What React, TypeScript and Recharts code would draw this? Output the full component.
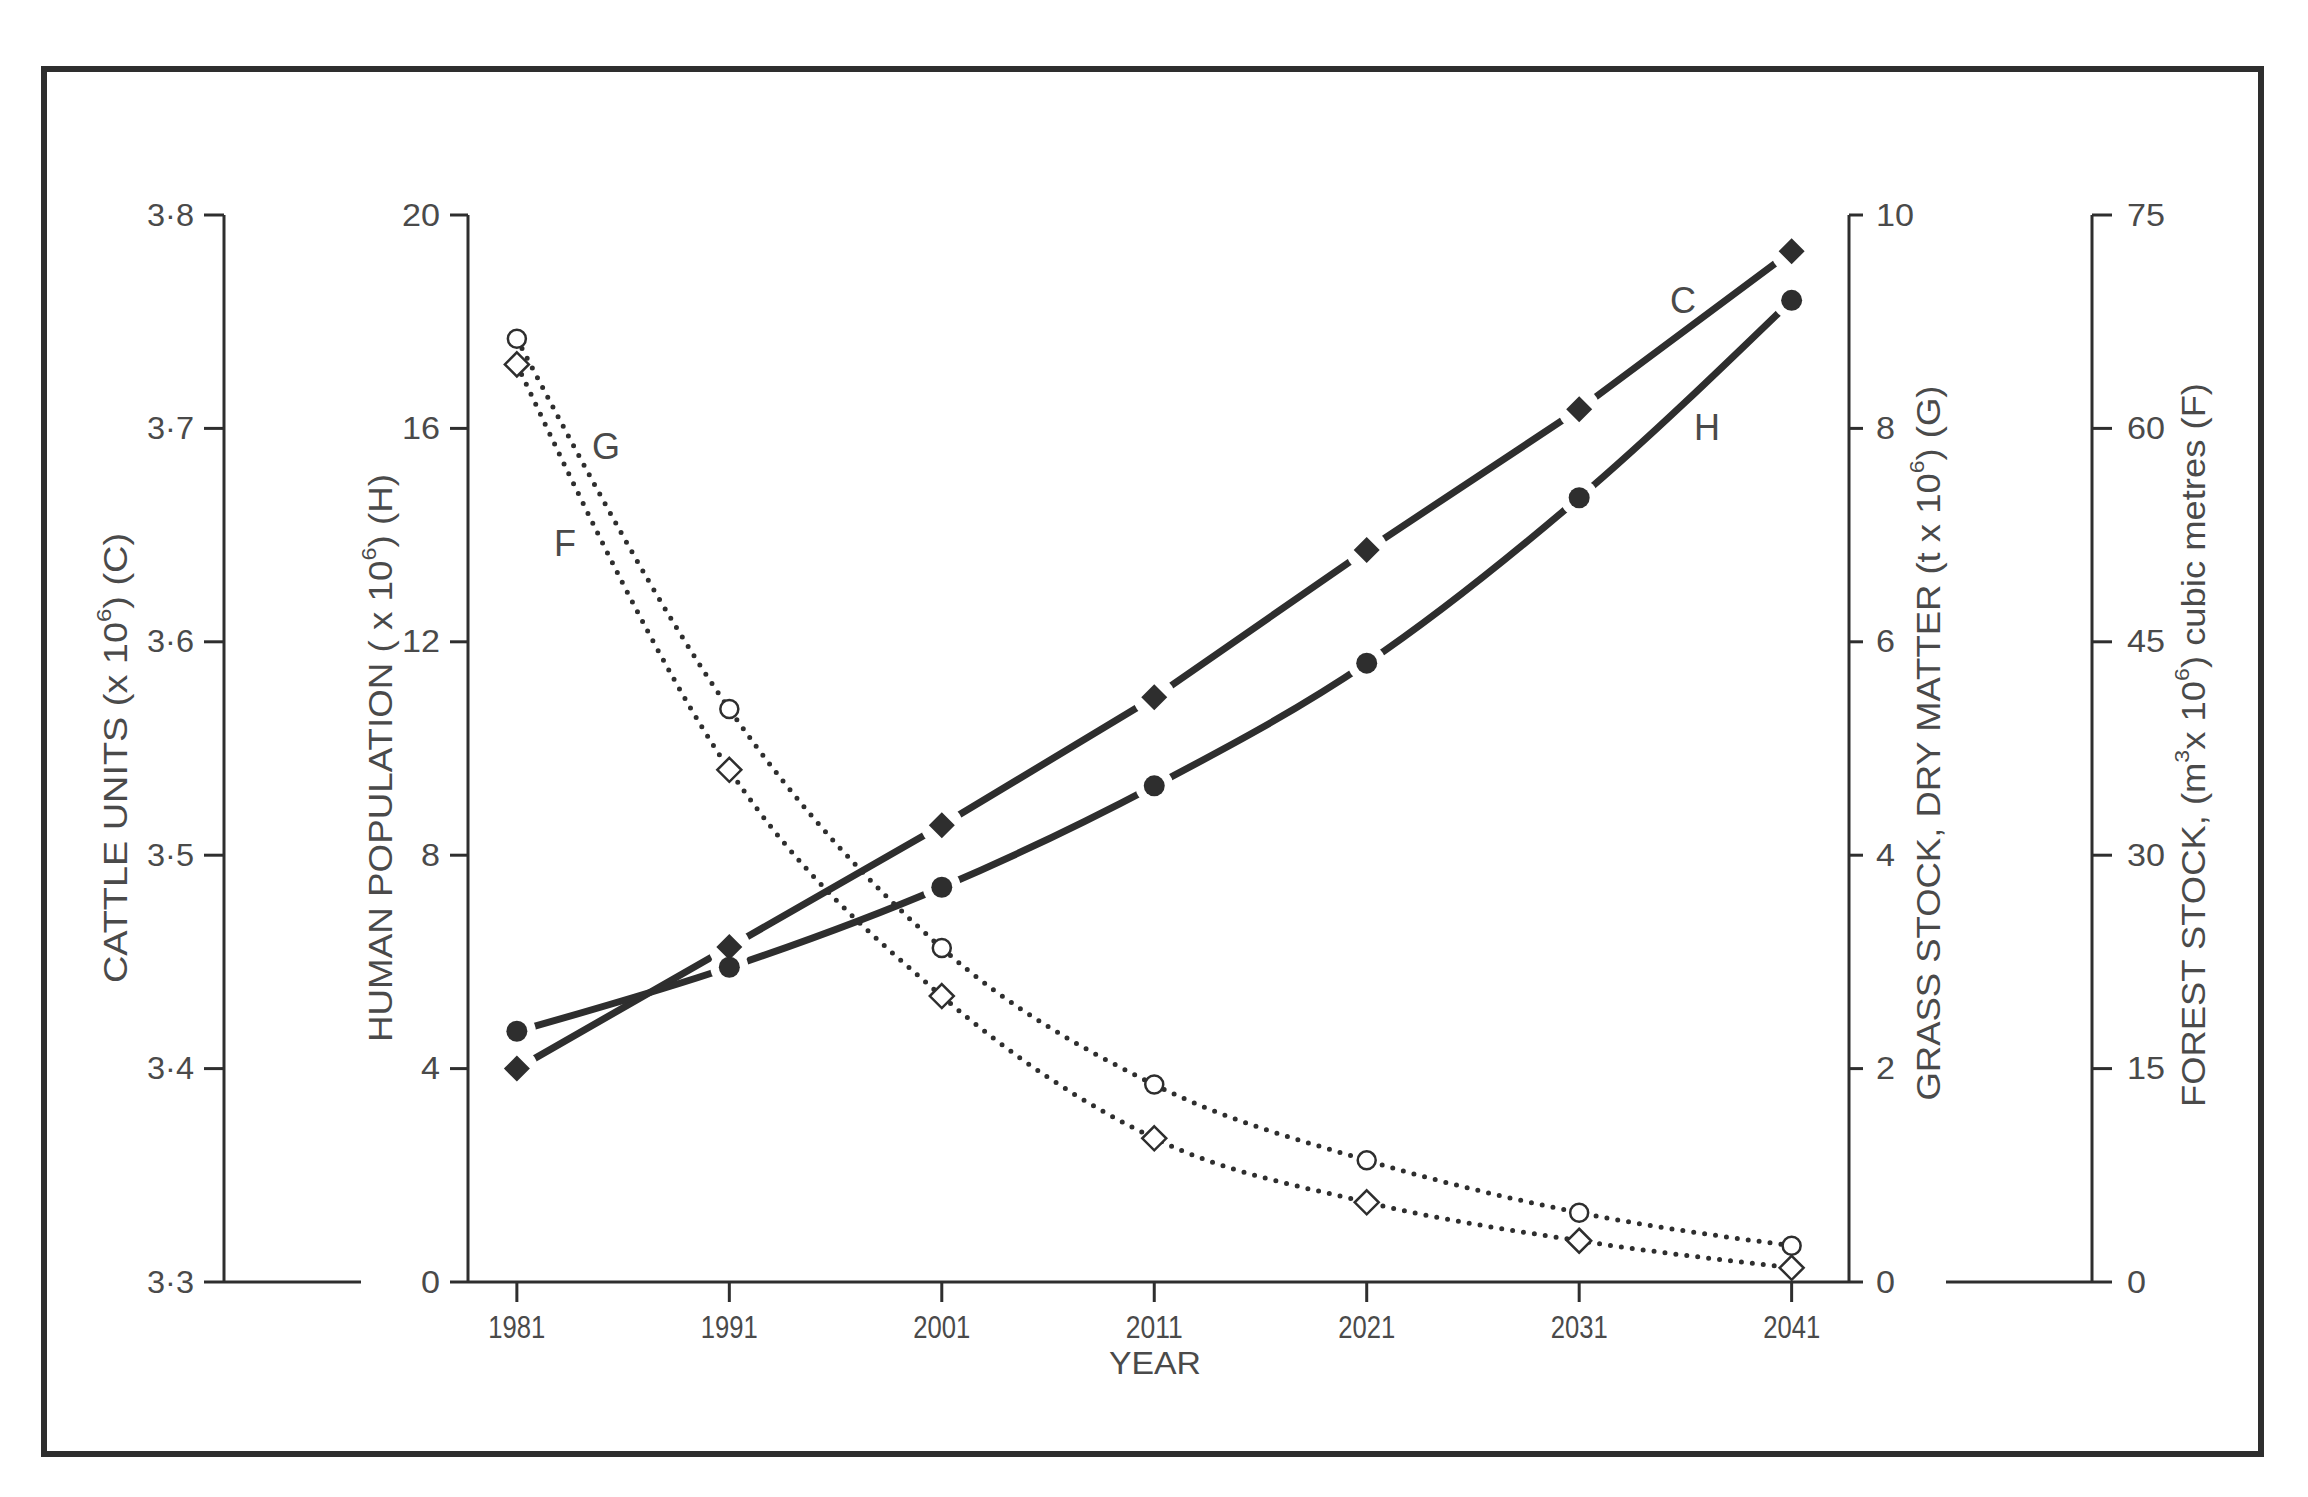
import React from "react";
import { LineChart, Line, XAxis, YAxis } from "recharts";

// values, one per decade
const years = [1981, 1991, 2001, 2011, 2021, 2031, 2041];
const humanPop = [4.7, 5.9, 7.4, 9.3, 11.6, 14.7, 18.4]; // H, x10^6
const cattleUnits = [3.4, 3.457, 3.514, 3.574, 3.643, 3.709, 3.783]; // C, x10^6
const grassStock = [8.84, 5.37, 3.13, 1.85, 1.14, 0.65, 0.34]; // G, t x10^6
const forestStock = [64.5, 36.0, 20.1, 10.1, 5.6, 2.9, 1.0]; // F, m3 x10^6

const humanTicks = [0, 4, 8, 12, 16, 20];
const cattleTicks = [3.3, 3.4, 3.5, 3.6, 3.7, 3.8];
const grassTicks = [0, 2, 4, 6, 8, 10];
const forestTicks = [0, 15, 30, 45, 60, 75];

const data = years.map((year, i) => ({
  year,
  H: humanPop[i],
  C: cattleUnits[i],
  G: grassStock[i],
  F: forestStock[i],
}));

// axis ids sort so the inner axes (human, grass) sit next to the plot
const AX_H = "a_human";
const AX_C = "b_cattle";
const AX_G = "a_grass";
const AX_F = "b_forest";

const INK = "#2e2e2e";
const TEXT = "#4a4a4a";
const SANS = "'Liberation Sans', Arial, sans-serif";

// layout
const W = 2308;
const H = 1497;
const PLOT_B = 1282;
const CATTLE_X = 224;
const FOREST_X = 2092;

// white ring drawn under each solid marker so the thick lines stop short of it
const Halo = (r: number) => (props: any) => {
  const { cx, cy } = props;
  if (cx == null || cy == null) return null;
  return <circle cx={cx} cy={cy} r={r} fill="#fff" />;
};

const FilledDiamond = (props: any) => {
  const { cx, cy } = props;
  if (cx == null || cy == null) return null;
  const s = 13;
  return (
    <polygon
      points={`${cx},${cy - s} ${cx + s},${cy} ${cx},${cy + s} ${cx - s},${cy}`}
      fill={INK}
    />
  );
};

const FilledCircle = (props: any) => {
  const { cx, cy } = props;
  if (cx == null || cy == null) return null;
  return <circle cx={cx} cy={cy} r={10.5} fill={INK} />;
};

const OpenCircle = (props: any) => {
  const { cx, cy } = props;
  if (cx == null || cy == null) return null;
  return <circle cx={cx} cy={cy} r={9} fill="#fff" stroke={INK} strokeWidth={2.5} />;
};

const OpenDiamond = (props: any) => {
  const { cx, cy } = props;
  if (cx == null || cy == null) return null;
  const s = 12;
  return (
    <polygon
      points={`${cx},${cy - s} ${cx + s},${cy} ${cx},${cy + s} ${cx - s},${cy}`}
      fill="#fff"
      stroke={INK}
      strokeWidth={2.5}
    />
  );
};

const YearTick = (props: any) => {
  const { x, y, payload } = props;
  return (
    <text
      x={x}
      y={y + 23}
      textAnchor="middle"
      dominantBaseline="central"
      fontFamily={SANS}
      fontSize={32}
      fill={TEXT}
      textLength={57}
      lengthAdjust="spacingAndGlyphs"
    >
      {payload.value}
    </text>
  );
};

// wide lettering-style numerals on the value axes
const ValueTick = (props: any) => {
  const { x, y, payload, textAnchor, tickFormatter } = props;
  const label = tickFormatter ? tickFormatter(payload.value, payload.index) : String(payload.value);
  const len = label.split("").reduce((s: number, ch: string) => s + (ch === "·" ? 9 : 19), 0);
  return (
    <text
      x={x}
      y={y}
      textAnchor={textAnchor}
      dominantBaseline="central"
      fontFamily={SANS}
      fontSize={31}
      fill={TEXT}
      textLength={len}
      lengthAdjust="spacingAndGlyphs"
    >
      {label}
    </text>
  );
};

const axisLine = { stroke: INK, strokeWidth: 3 };

const VTitle = ({ x, y, len, children }: any) => (
  <text
    x={x}
    y={y}
    transform={`rotate(-90 ${x} ${y})`}
    textAnchor="middle"
    dominantBaseline="central"
    fontFamily={SANS}
    fontSize={33}
    fill={TEXT}
    textLength={len}
    lengthAdjust="spacingAndGlyphs"
  >
    {children}
  </text>
);

const Sup = ({ children }: any) => (
  <tspan baselineShift="super" fontSize={21}>
    {children}
  </tspan>
);

export default function App() {
  return (
    <div style={{ position: "absolute", left: 0, top: 0, width: W, height: H, background: "#fff" }}>
      <LineChart
        width={W}
        height={H}
        data={data}
        margin={{ top: 215, bottom: 115, left: 74, right: 66 }}
      >
        <XAxis
          dataKey="year"
          type="number"
          domain={[1978.7, 2043.7]}
          ticks={years}
          interval={0}
          allowDataOverflow
          height={100}
          tickSize={20}
          axisLine={axisLine}
          tickLine={axisLine}
          tick={<YearTick />}
        />
        <YAxis
          yAxisId={AX_H}
          orientation="left"
          domain={[0, 20]}
          ticks={humanTicks}
          interval={0}
          width={244}
          tickSize={18}
          tickMargin={10}
          axisLine={axisLine}
          tickLine={axisLine}
          tick={<ValueTick />}
        />
        <YAxis
          yAxisId={AX_C}
          orientation="left"
          domain={[3.3, 3.8]}
          ticks={cattleTicks}
          interval={0}
          width={150}
          tickSize={20}
          tickMargin={10}
          axisLine={axisLine}
          tickLine={axisLine}
          tick={<ValueTick />}
          tickFormatter={(v: number) => v.toFixed(1).replace(".", "·")}
        />
        <YAxis
          yAxisId={AX_G}
          orientation="right"
          domain={[0, 10]}
          ticks={grassTicks}
          interval={0}
          width={243}
          tickSize={14}
          tickMargin={13}
          axisLine={axisLine}
          tickLine={axisLine}
          tick={<ValueTick />}
        />
        <YAxis
          yAxisId={AX_F}
          orientation="right"
          domain={[0, 75]}
          ticks={forestTicks}
          interval={0}
          width={150}
          tickSize={20}
          tickMargin={15}
          axisLine={axisLine}
          tickLine={axisLine}
          tick={<ValueTick />}
        />
        {/* thick solid lines with white rings under the markers */}
        <Line
          yAxisId={AX_C}
          dataKey="C"
          type="linear"
          stroke={INK}
          strokeWidth={7}
          strokeLinecap="round"
          dot={Halo(21)}
          isAnimationActive={false}
        />
        <Line
          yAxisId={AX_H}
          dataKey="H"
          type="monotone"
          stroke={INK}
          strokeWidth={7}
          strokeLinecap="round"
          dot={Halo(19)}
          isAnimationActive={false}
        />
        <Line
          yAxisId={AX_C}
          dataKey="C"
          stroke="none"
          dot={<FilledDiamond />}
          isAnimationActive={false}
        />
        <Line
          yAxisId={AX_H}
          dataKey="H"
          stroke="none"
          dot={<FilledCircle />}
          isAnimationActive={false}
        />
        <Line
          yAxisId={AX_G}
          dataKey="G"
          type="monotone"
          stroke={INK}
          strokeWidth={5}
          strokeDasharray="0 11"
          strokeLinecap="round"
          dot={<OpenCircle />}
          isAnimationActive={false}
        />
        <Line
          yAxisId={AX_F}
          dataKey="F"
          type="monotone"
          stroke={INK}
          strokeWidth={5}
          strokeDasharray="0 11"
          strokeLinecap="round"
          dot={<OpenDiamond />}
          isAnimationActive={false}
        />
      </LineChart>
      <svg
        width={W}
        height={H}
        style={{ position: "absolute", left: 0, top: 0, pointerEvents: "none" }}
      >
        <rect x={44} y={69} width={2217} height={1385} fill="none" stroke={INK} strokeWidth={6} />
        <line x1={CATTLE_X} x2={CATTLE_X + 137} y1={PLOT_B} y2={PLOT_B} stroke={INK} strokeWidth={3} />
        <line x1={FOREST_X - 146} x2={FOREST_X} y1={PLOT_B} y2={PLOT_B} stroke={INK} strokeWidth={3} />
        <VTitle x={115} y={758} len={450}>
          CATTLE UNITS (x 10<Sup>6</Sup>) (C)
        </VTitle>
        <VTitle x={380} y={758} len={568}>
          HUMAN POPULATION ( x 10<Sup>6</Sup>) (H)
        </VTitle>
        <VTitle x={1928} y={743} len={715}>
          GRASS STOCK, DRY MATTER (t x 10<Sup>6</Sup>) (G)
        </VTitle>
        <VTitle x={2193} y={745} len={724}>
          FOREST STOCK, (m<Sup>3</Sup>x 10<Sup>6</Sup>) cubic metres (F)
        </VTitle>
        <text
          x={1155}
          y={1363}
          textAnchor="middle"
          dominantBaseline="central"
          fontFamily={SANS}
          fontSize={32}
          fill={TEXT}
          textLength={92}
          lengthAdjust="spacingAndGlyphs"
        >
          YEAR
        </text>
        <g fontFamily={SANS} fontSize={36} fill={TEXT} textAnchor="middle" dominantBaseline="central">
          <text x={1683} y={300}>C</text>
          <text x={1707} y={427}>H</text>
          <text x={606} y={446}>G</text>
          <text x={565} y={543}>F</text>
        </g>
      </svg>
    </div>
  );
}
